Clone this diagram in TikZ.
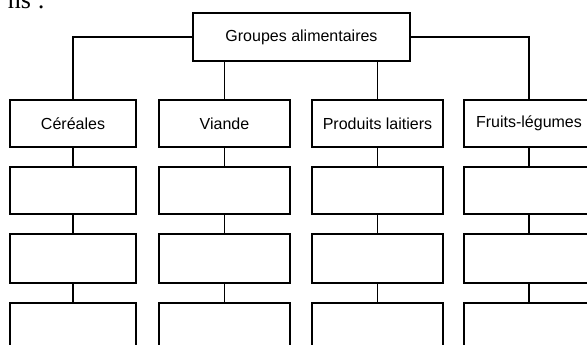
\documentclass[tikz,border=0pt]{standalone}
\usepackage{fontspec}
\setmainfont{Liberation Sans}
\newfontfamily\serifface{Liberation Serif}
\begin{document}
\begin{tikzpicture}[x=1pt,y=-1pt,
  box/.style={draw, line width=1.2pt, rectangle, inner sep=0pt,
    font=\fontsize{16}{19}\selectfont},
  link/.style={line width=1.4pt}]
\useasboundingbox (0,0) rectangle (587,345);
\clip (0,0) rectangle (587,345);

% trailing words of the preceding sentence
\node[anchor=base east, inner sep=0pt, font=\serifface\fontsize{26}{30}\selectfont] (intro) at (45,9) {ns :};

% root box
\node[box, minimum width=217pt, minimum height=48pt] (root) at (301.5,37) {Groupes alimentaires};

% four columns of boxes
\foreach \n/\cx/\w/\lab in {c/73/126/Céréales, v/224.5/131/Viande,
                             p/377.5/131/Produits laitiers, f/529/130/Fruits-légumes} {
  \node[box, minimum width=\w pt, minimum height=47pt] (\n1) at (\cx,123.5) {\lab};
  \node[box, minimum width=\w pt, minimum height=47pt] (\n2) at (\cx,190.5) {};
  \node[box, minimum width=\w pt, minimum height=49pt] (\n3) at (\cx,258.5) {};
  \node[box, minimum width=\w pt, minimum height=50pt] (\n4) at (\cx,328) {};
  \draw[link] (\n1.south) -- (\n2.north);
  \draw[link] (\n2.south) -- (\n3.north);
  \draw[link] (\n3.south) -- (\n4.north);
}

% links from the root box
\draw[link] (root.west) -| (c1.north);
\draw[link] (root.east) -| (f1.north);
\draw[link] (root.south -| v1.north) -- (v1.north);
\draw[link] (root.south -| p1.north) -- (p1.north);
\end{tikzpicture}
\end{document}
